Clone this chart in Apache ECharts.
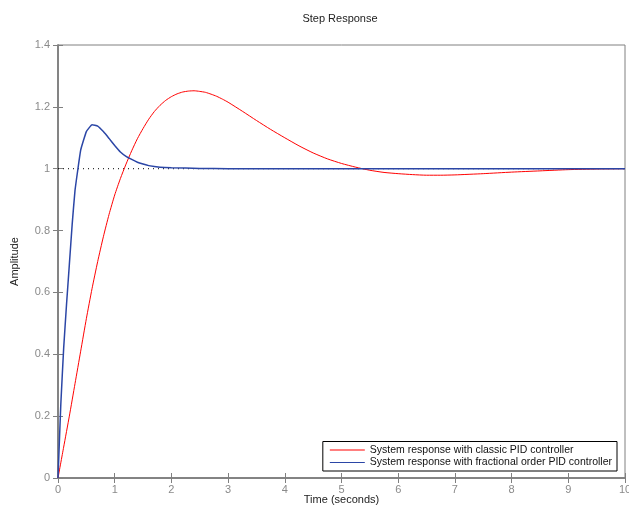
<!DOCTYPE html>
<html>
<head>
<meta charset="utf-8">
<script src="https://cdn.jsdelivr.net/npm/echarts@6/dist/echarts.min.js"></script>
<style>html,body{margin:0;padding:0;background:#fff}#c{width:629px;height:508px}</style>
</head>
<body>
<div id="c"></div>
<script>
var classicT = [0,0.1,0.2,0.3,0.4,0.5,0.6,0.7,0.8,0.9,1.0,1.1,1.2,1.3,1.4,1.5,1.6,1.7,1.8,1.9,2.0,2.1,2.2,2.3,2.4,2.5,2.6,2.7,2.8,2.9,3.0,3.25,3.5,3.75,4.0,4.25,4.5,4.75,5.0,5.25,5.5,5.75,6.0,6.25,6.5,6.75,7.0,7.5,8.0,8.5,9.0,9.5,10];
var classicY = [0,0.10,0.20,0.305,0.41,0.515,0.612,0.70,0.78,0.852,0.915,0.968,1.015,1.058,1.097,1.13,1.16,1.185,1.205,1.221,1.233,1.242,1.248,1.251,1.252,1.250,1.247,1.241,1.234,1.225,1.215,1.186,1.156,1.127,1.10,1.074,1.051,1.032,1.017,1.005,0.995,0.988,0.984,0.981,0.979,0.979,0.980,0.984,0.989,0.993,0.997,0.999,1.0];
var fracT = [0,0.05,0.1,0.15,0.2,0.25,0.3,0.4,0.5,0.6,0.7,0.8,0.9,1.0,1.1,1.2,1.3,1.4,1.5,1.6,1.8,2.0,2.5,3,4,5,6,7,8,9,10];
var fracY = [0,0.24,0.42,0.56,0.69,0.82,0.93,1.06,1.12,1.142,1.138,1.12,1.098,1.075,1.054,1.04,1.03,1.021,1.015,1.01,1.005,1.003,1.001,1.0,1.0,1.0,1.0,1.0,1.0,1.0,1.0];
var refT = [0,10];
var refY = [1,1];
var seriesNames = ['System response with classic PID controller','System response with fractional order PID controller'];

function pairs(t,y){return t.map(function(v,i){return [v,y[i]];});}

var chart = echarts.init(document.getElementById('c'));
var axisGray = '#808080';
var labelGray = '#8a8a8a';
var ff = 'Liberation Sans, Arial';
chart.setOption({
  animation:false,
  backgroundColor:'#fff',
  title:{text:'Step Response',left:335,textAlign:'center',top:8,textStyle:{fontSize:11,fontWeight:'normal',color:'#222',fontFamily:ff}},
  grid:{left:58,right:4,top:45,bottom:30,outerBoundsMode:'none',containLabel:false,show:true,borderColor:axisGray,borderWidth:1},
  legend:{
    data:seriesNames.map(function(n){return {name:n,icon:'rect'};}),
    orient:'vertical',right:12,bottom:37,
    itemWidth:35,itemHeight:1.2,itemGap:1.5,
    padding:[3,5,3,7],
    borderColor:'#000',borderWidth:1,backgroundColor:'#fff',
    textStyle:{fontSize:10.5,color:'#111',fontFamily:ff}
  },
  xAxis:[{
    type:'value',min:0,max:10,interval:1,
    name:'Time (seconds)',nameLocation:'middle',nameGap:16,nameMoveOverlap:false,
    nameTextStyle:{fontSize:11,color:'#222',fontFamily:ff,verticalAlign:'top'},
    axisLine:{show:true,lineStyle:{color:axisGray,width:1.5}},
    axisTick:{show:true,inside:true,length:5,lineStyle:{color:axisGray}},
    axisLabel:{fontSize:11,color:labelGray,margin:6,fontFamily:ff},
    splitLine:{show:false}
  },{
    type:'value',min:0,max:10,interval:1,position:'top',
    axisLine:{show:true,lineStyle:{color:axisGray,width:1.5}},
    axisTick:{show:true,inside:true,length:5,lineStyle:{color:axisGray}},
    axisLabel:{show:false},splitLine:{show:false}
  }],
  yAxis:[{
    type:'value',min:0,max:1.4,interval:0.2,position:'left',
    name:'Amplitude',nameLocation:'middle',nameGap:38,nameMoveOverlap:false,
    nameTextStyle:{fontSize:11,color:'#222',fontFamily:ff},
    axisLine:{show:true,lineStyle:{color:axisGray,width:1.5}},
    axisTick:{show:true,inside:true,length:5,lineStyle:{color:axisGray}},
    axisLabel:{fontSize:11,color:labelGray,margin:8,fontFamily:ff},
    splitLine:{show:false}
  },{
    type:'value',min:0,max:1.4,interval:0.2,position:'right',
    axisLine:{show:true,lineStyle:{color:axisGray,width:1.5}},
    axisTick:{show:true,inside:true,length:5,lineStyle:{color:axisGray}},
    axisLabel:{show:false},splitLine:{show:false}
  }],
  series:[{
    name:'ref',type:'line',data:pairs(refT,refY),showSymbol:false,silent:true,
    lineStyle:{color:'#000',width:1,type:[1,4]},z:1
  },{
    name:seriesNames[0],type:'line',data:pairs(classicT,classicY),showSymbol:false,smooth:0.2,
    itemStyle:{color:'#ff0000'},lineStyle:{color:'#ff0000',width:1},z:2
  },{
    name:seriesNames[1],type:'line',data:pairs(fracT,fracY),showSymbol:false,smooth:0.1,
    itemStyle:{color:'#2b46a6'},lineStyle:{color:'#2b46a6',width:1.5},z:3
  }]
});
</script>
</body>
</html>
